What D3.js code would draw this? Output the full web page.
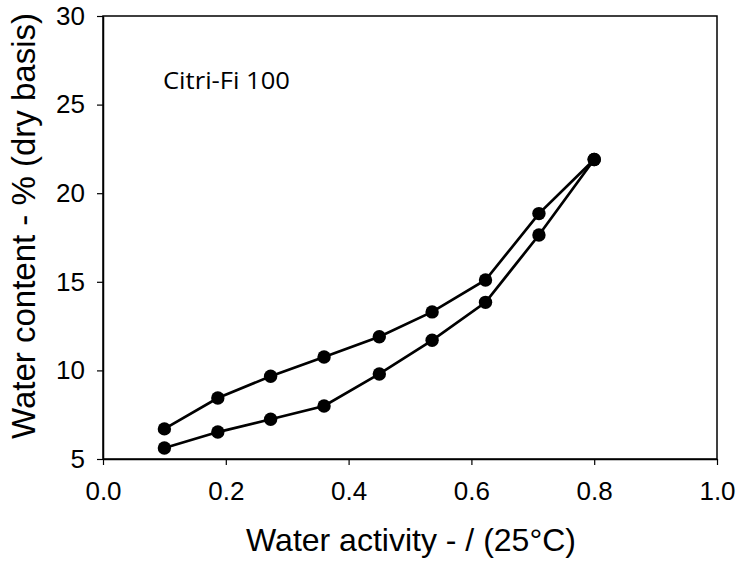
<!DOCTYPE html>
<html>
<head>
<meta charset="utf-8">
<script src="https://cdn.jsdelivr.net/npm/d3@7"></script>
<style>
  body { margin: 0; background: white; }
  text { font-family: "Liberation Sans", Arial, sans-serif; }
</style>
</head>
<body>
<div id="container"></div>
<script>
let w = 737;
let h = 563;
let margin = {left: 103, top: 16, right: 20, bottom: 104};

// water activity (x) for each measured point
let activity = [0.1, 0.187, 0.273, 0.36, 0.45, 0.536, 0.623, 0.71, 0.8];
// upper branch (desorption) and lower branch (adsorption)
let upperContent = [6.7, 8.44, 9.67, 10.76, 11.9, 13.3, 15.1, 18.85, 21.9];
let lowerContent = [5.62, 6.52, 7.24, 7.99, 9.8, 11.7, 13.84, 17.64, 21.9];

let xTicks = [0.0, 0.2, 0.4, 0.6, 0.8, 1.0];
let yTicks = [5, 10, 15, 20, 25, 30];

let viz = d3.select("#container")
  .append("svg")
    .attr("width", w)
    .attr("height", h)
    .style("background-color", "white")
;

let xScale = d3.scaleLinear().domain([0, 1]).range([margin.left, w - margin.right]);
let yScale = d3.scaleLinear().domain([5, 30]).range([h - margin.bottom, margin.top]);

// frame around the plot
viz.append("rect")
  .attr("x", xScale(0))
  .attr("y", yScale(30))
  .attr("width", xScale(1) - xScale(0))
  .attr("height", yScale(5) - yScale(30))
  .attr("fill", "none")
  .attr("stroke", "black")
  .attr("stroke-width", 1.5)
;

let xAxis = d3.axisBottom(xScale)
  .tickValues(xTicks)
  .tickFormat(d3.format(".1f"))
  .tickSize(6)
  .tickSizeOuter(0);

let yAxis = d3.axisLeft(yScale)
  .tickValues(yTicks)
  .tickSize(6)
  .tickSizeOuter(0);

let xg = viz.append("g")
  .attr("transform", "translate(0," + yScale(5) + ")")
  .call(xAxis);
xg.select(".domain").attr("stroke-width", 1.5);
xg.selectAll(".tick line").attr("stroke-width", 1.2);
xg.selectAll(".tick text")
  .attr("font-size", 26)
  .attr("dy", null)
  .attr("y", 41);

let yg = viz.append("g")
  .attr("transform", "translate(" + xScale(0) + ",0)")
  .call(yAxis);
yg.select(".domain").attr("stroke-width", 1.5);
yg.selectAll(".tick line").attr("stroke-width", 1.2);
yg.selectAll(".tick text")
  .attr("font-size", 26)
  .attr("x", -18);

// axis titles
viz.append("text")
  .attr("x", 411)
  .attr("y", 551)
  .attr("text-anchor", "middle")
  .attr("font-size", 32)
  .text("Water activity - / (25°C)")
;

viz.append("text")
  .attr("transform", "translate(35,226) rotate(-90)")
  .attr("text-anchor", "middle")
  .attr("font-size", 33)
  .text("Water content - % (dry basis)")
;

// sample name
viz.append("text")
  .attr("x", 163)
  .attr("y", 89)
  .attr("font-size", 24)
  .style("font-family", "'Open Sans', sans-serif")
  .attr("textLength", 127)
  .attr("lengthAdjust", "spacingAndGlyphs")
  .text("Citri-Fi 100")
;

let line = d3.line()
  .x(function(d){ return xScale(d[0]); })
  .y(function(d){ return yScale(d[1]); });

let series = [upperContent, lowerContent];

series.forEach(function(values){
  let pts = activity.map(function(a, i){ return [a, values[i]]; });
  viz.append("path")
    .datum(pts)
    .attr("d", line)
    .attr("fill", "none")
    .attr("stroke", "black")
    .attr("stroke-width", 2.7)
  ;
  viz.selectAll(null).data(pts).enter()
    .append("circle")
      .attr("cx", function(d){ return xScale(d[0]); })
      .attr("cy", function(d){ return yScale(d[1]); })
      .attr("r", 6.7)
      .attr("fill", "black")
  ;
});
</script>
</body>
</html>
